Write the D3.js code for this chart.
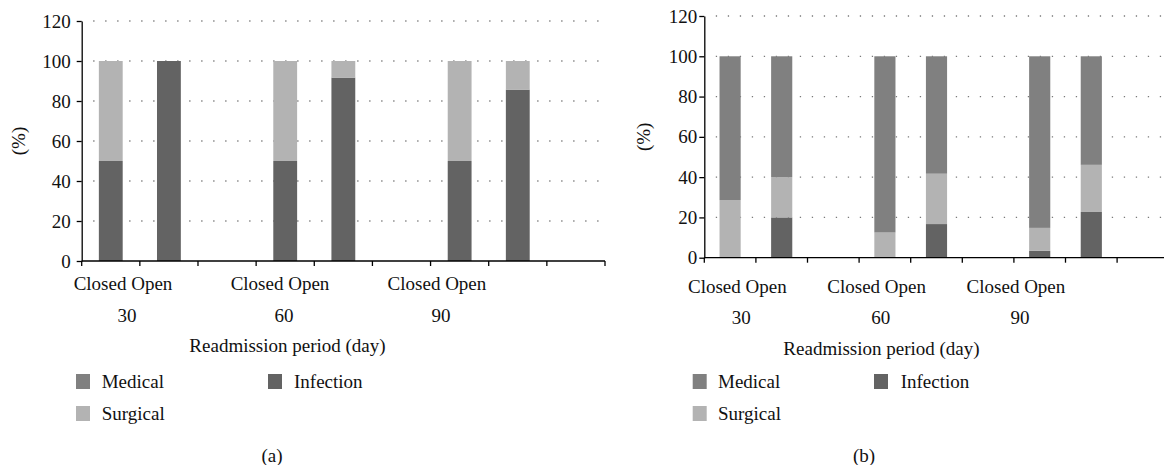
<!DOCTYPE html>
<html lang="en">
<head>
<meta charset="UTF-8">
<title>Readmission by cause</title>
<script src="https://cdn.jsdelivr.net/npm/d3@7/dist/d3.min.js"></script>
<style>
  body { margin: 0; background: #fff; }
  .axis path, .axis line { stroke: #000; stroke-width: 1.3; }
</style>
</head>
<body>
<div id="chart"></div>
<script>
  // categories
  const periods = ["30", "60", "90"];
  const arms = ["Closed", "Open"];
  const seriesNames = ["Medical", "Surgical", "Infection"];
  const yTicks = [0, 20, 40, 60, 80, 100, 120];

  // values, order: Closed30, Open30, Closed60, Open60, Closed90, Open90 (%)
  const aMedical   = [0, 0, 0, 0, 0, 0];
  const aSurgical  = [50, 0, 50, 8.3, 50, 14.3];
  const aInfection = [50, 100, 50, 91.7, 50, 85.7];

  const bMedical   = [71.4, 60, 87.5, 58.3, 85.2, 53.9];
  const bSurgical  = [28.6, 20, 12.5, 25, 11.4, 23.4];
  const bInfection = [0, 20, 0, 16.7, 3.4, 22.7];

  const colors = { Medical: "#808080", Surgical: "#b3b3b3", Infection: "#636363" };
  const FONT = "'Liberation Serif', 'Times New Roman', Times, serif";

  const width = 1164, height = 465;
  const svg = d3.select("#chart").append("svg")
    .attr("width", width).attr("height", height)
    .style("display", "block");

  // slots: Closed, Open, gap per period
  const slots = [];
  periods.forEach(p => { arms.forEach(a => slots.push(p + "-" + a)); slots.push(p + "-gap"); });

  function rows(med, sur, inf) {
    const out = [];
    periods.forEach((p, i) => arms.forEach((a, j) => {
      const k = i * 2 + j;
      out.push({ slot: p + "-" + a, Medical: med[k], Surgical: sur[k], Infection: inf[k] });
    }));
    return out;
  }

  const panels = [
    { tag: "(a)", data: rows(aMedical, aSurgical, aInfection),
      x0: 81.7, x1: 605, yTop: 21, yBot: 261, tickPad: 6, yLabelX: 18,
      grpOff: 0.71, armY: 283, numY: 315, titleX: 287.5, titleY: 345,
      legX: [76, 268], legTextX: [101.7, 294], tagX: 272 },
    { tag: "(b)", data: rows(bMedical, bSurgical, bInfection),
      x0: 704.3, x1: 704.3 + 9 * 51.6, yTop: 16, yBot: 257.7, tickPad: 2, yLabelX: 643,
      grpOff: 0.64, armY: 286, numY: 317, titleX: 881.5, titleY: 348,
      legX: [692.7, 874], legTextX: [718, 900.7], tagX: 864 }
  ];

  const stack = d3.stack().keys(["Infection", "Surgical", "Medical"]);

  function label(sel, x, y, txt, anchor) {
    return sel.append("text")
      .attr("x", x).attr("y", y).attr("dy", "0.35em")
      .attr("text-anchor", anchor || "middle")
      .style("font-family", FONT).style("font-size", "19px").attr("fill", "#111")
      .text(txt);
  }

  panels.forEach(P => {
    const g = svg.append("g");
    const x = d3.scaleBand().domain(slots).range([P.x0, P.x1]).padding(0);
    const y = d3.scaleLinear().domain([0, 120]).range([P.yBot, P.yTop]);
    const step = x.step();

    // dotted grid
    g.append("g").selectAll("line")
      .data(yTicks.filter(d => d > 0))
      .join("line")
      .attr("x1", P.x0 + 11.5).attr("x2", P.x1)
      .attr("y1", d => y(d)).attr("y2", d => y(d))
      .attr("stroke", "#7a7a7a").attr("stroke-width", 1.3)
      .attr("stroke-dasharray", "1.3,10.7");

    // bars
    const bw = x.bandwidth() * 0.41;
    g.append("g").selectAll("g")
      .data(stack(P.data))
      .join("g")
      .attr("fill", d => colors[d.key])
      .selectAll("rect")
      .data(d => d)
      .join("rect")
      .attr("x", d => x(d.data.slot) + (x.bandwidth() - bw) / 2)
      .attr("width", bw)
      .attr("y", d => y(d[1]))
      .attr("height", d => y(d[0]) - y(d[1]));

    // y axis
    const ya = g.append("g").attr("class", "axis")
      .attr("transform", `translate(${P.x0},0)`)
      .call(d3.axisLeft(y).tickValues(yTicks).tickSize(5).tickSizeOuter(0).tickPadding(P.tickPad));
    ya.selectAll("text").style("font-family", FONT).style("font-size", "19px").attr("fill", "#111");

    // x axis: line + boundary ticks
    const xa = g.append("g").attr("class", "axis");
    xa.append("line").attr("x1", P.x0).attr("x2", P.x1)
      .attr("y1", y(0)).attr("y2", y(0));
    xa.selectAll(".bt")
      .data(slots.map(s => x(s)).concat([P.x1]))
      .join("line").attr("class", "bt")
      .attr("x1", d => d).attr("x2", d => d)
      .attr("y1", y(0)).attr("y2", y(0) + 5);

    // group labels
    periods.forEach((p, i) => {
      const cx = P.x0 + step * (P.grpOff + 2.7 * i);
      label(g, cx, P.armY, arms.join(" "));
      label(g, cx + 4, P.numY, p);
    });

    label(g, P.titleX, P.titleY, "Readmission period (day)");

    label(g, 0, 0, "(%)")
      .attr("transform", `translate(${P.yLabelX},${(P.yTop + P.yBot) / 2}) rotate(-90)`);

    // legend
    const leg = [
      { name: "Medical", col: 0, row: 0 },
      { name: "Infection", col: 1, row: 0 },
      { name: "Surgical", col: 0, row: 1 }
    ];
    leg.forEach(d => {
      const cy = 381.5 + d.row * 32;
      g.append("rect")
        .attr("x", P.legX[d.col]).attr("y", cy - 7.5)
        .attr("width", 14).attr("height", 15)
        .attr("fill", colors[d.name]);
      label(g, P.legTextX[d.col], cy, d.name, "start");
    });

    label(g, P.tagX, 455, P.tag);
  });
</script>
</body>
</html>
